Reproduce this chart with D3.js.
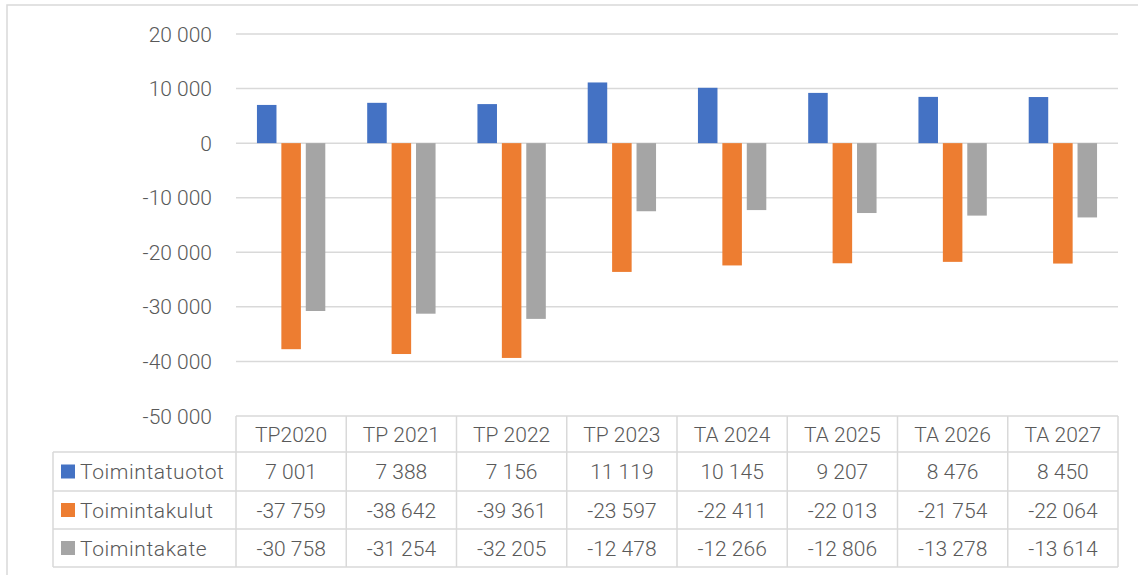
<!DOCTYPE html>
<html lang="fi">
<head>
<meta charset="utf-8">
<title>Toimintatuotot, -kulut ja -kate</title>
<script src="https://cdn.jsdelivr.net/npm/d3@7"></script>
<style>
  body { margin: 0; background: #fff; }
  text { font-family: Roboto, "Open Sans", sans-serif; font-weight: 300; fill: #595959; font-size: 21px; }
</style>
</head>
<body>
<script>
// years / columns
var years = ["TP2020", "TP 2021", "TP 2022", "TP 2023", "TA 2024", "TA 2025", "TA 2026", "TA 2027"];
var seriesNames = ["Toimintatuotot", "Toimintakulut", "Toimintakate"];
var toimintatuotot = [7001, 7388, 7156, 11119, 10145, 9207, 8476, 8450];
var toimintakulut = [-37759, -38642, -39361, -23597, -22411, -22013, -21754, -22064];
var toimintakate = [-30758, -31254, -32205, -12478, -12266, -12806, -13278, -13614];
var yTicks = [20000, 10000, 0, -10000, -20000, -30000, -40000, -50000];
var colors = ["#4472C4", "#ED7D31", "#A5A5A5"];

var allSeries = [toimintatuotot, toimintakulut, toimintakate];

var W = 1138, H = 575;
var plot = {left: 236, right: 1118, top: 34, bottom: 416};
var rowH = [36, 39, 38, 38];   // header row + 3 data rows
var labelLeft = 53;

var svg = d3.select("body").append("svg")
    .attr("width", W).attr("height", H);

// chart frame
svg.append("rect")
    .attr("x", 7).attr("y", 5)
    .attr("width", W + 10).attr("height", H + 10)
    .attr("fill", "none").attr("stroke", "#d9d9d9").attr("stroke-width", 1.5);

var y = d3.scaleLinear().domain([-50000, 20000]).range([plot.bottom, plot.top]);
var x0 = d3.scaleBand().domain(years).range([plot.left, plot.right]);
var x1 = d3.scaleBand().domain(seriesNames)
    .range([x0.bandwidth() * 0.19, x0.bandwidth() * 0.81]).paddingInner(0.2);

var fmtTick = function(v) {
  var s = d3.format(",")(Math.abs(v)).replace(/,/g, " ");
  return (v < 0 ? "-" : "") + s;
};

// gridlines
svg.append("g").selectAll("line")
  .data(yTicks.filter(function(d) { return d > -50000; }))
  .enter().append("line")
    .attr("x1", plot.left).attr("x2", plot.right)
    .attr("y1", function(d) { return y(d); })
    .attr("y2", function(d) { return y(d); })
    .attr("stroke", "#d9d9d9").attr("stroke-width", 1.5);

// y labels
svg.append("g").selectAll("text")
  .data(yTicks)
  .enter().append("text")
    .attr("x", 212)
    .attr("y", function(d) { return y(d); })
    .attr("dy", "0.36em")
    .attr("text-anchor", "end")
    .text(fmtTick);

// bars
var groups = svg.append("g").selectAll("g")
  .data(years)
  .enter().append("g")
    .attr("transform", function(d) { return "translate(" + x0(d) + ",0)"; });

groups.selectAll("rect")
  .data(function(d, i) {
    return seriesNames.map(function(s, k) { return {name: s, k: k, value: allSeries[k][i]}; });
  })
  .enter().append("rect")
    .attr("x", function(d) { return x1(d.name); })
    .attr("width", x1.bandwidth())
    .attr("y", function(d) { return y(Math.max(0, d.value)); })
    .attr("height", function(d) { return Math.abs(y(d.value) - y(0)); })
    .attr("fill", function(d) { return colors[d.k]; });

// data table
var tbl = svg.append("g");
var gridColor = "#d9d9d9";
var rowTop = [plot.bottom];
for (var r = 0; r < rowH.length; r++) rowTop.push(rowTop[r] + rowH[r]);

// horizontal lines
tbl.append("line").attr("x1", plot.left).attr("x2", plot.right)
    .attr("y1", rowTop[0]).attr("y2", rowTop[0]);
for (var r = 1; r < rowTop.length; r++) {
  tbl.append("line").attr("x1", labelLeft).attr("x2", plot.right)
      .attr("y1", rowTop[r]).attr("y2", rowTop[r]);
}
// vertical lines
tbl.append("line").attr("x1", labelLeft).attr("x2", labelLeft)
    .attr("y1", rowTop[1]).attr("y2", rowTop[4]);
years.forEach(function(yr, i) {
  tbl.append("line").attr("x1", x0(yr)).attr("x2", x0(yr))
      .attr("y1", rowTop[0]).attr("y2", rowTop[4]);
});
tbl.append("line").attr("x1", plot.right).attr("x2", plot.right)
    .attr("y1", rowTop[0]).attr("y2", rowTop[4]);
tbl.selectAll("line").attr("stroke", gridColor).attr("stroke-width", 1.5);

// header
tbl.selectAll("text.hdr").data(years).enter().append("text")
    .attr("class", "hdr")
    .attr("x", function(d) { return x0(d) + x0.bandwidth() / 2; })
    .attr("y", (rowTop[0] + rowTop[1]) / 2)
    .attr("dy", "0.36em")
    .attr("text-anchor", "middle")
    .text(function(d) { return d; });

// series rows
seriesNames.forEach(function(name, k) {
  var cy = (rowTop[k + 1] + rowTop[k + 2]) / 2;
  tbl.append("rect")
      .attr("x", 61).attr("y", cy - 7).attr("width", 14).attr("height", 14)
      .attr("fill", colors[k]);
  tbl.append("text")
      .attr("x", 80).attr("y", cy).attr("dy", "0.36em")
      .style("letter-spacing", "0.6px")
      .text(name);
  tbl.selectAll("text.v" + k).data(allSeries[k]).enter().append("text")
      .attr("class", "v" + k)
      .attr("x", function(d, i) { return x0(years[i]) + x0.bandwidth() / 2; })
      .attr("y", cy).attr("dy", "0.36em")
      .attr("text-anchor", "middle")
      .text(fmtTick);
});
</script>
</body>
</html>
